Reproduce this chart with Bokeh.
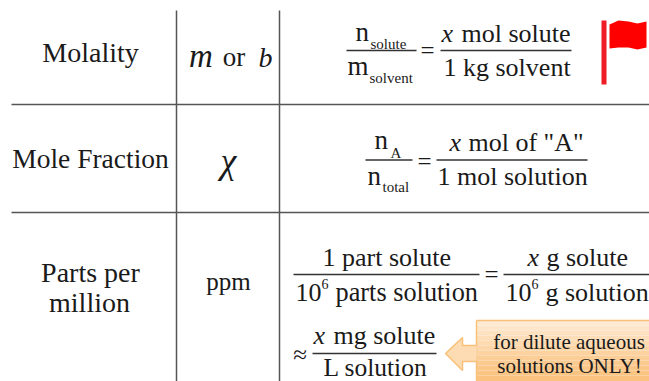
from bokeh.plotting import figure
from bokeh.models import ColumnDataSource, Range1d
from bokeh.embed import file_html
from bokeh.resources import INLINE
from bokeh.core.properties import value

FONT = "Liberation Serif"
INK = "#1a1a1a"

# text, x, baseline y, size px, anchor
roman = [
    ("Molality", 90, 60, 28, "center"),
    ("or", 233.5, 65, 27, "center"),
    ("Mole Fraction", 90, 166, 27.5, "center"),
    ("Parts per", 90, 280, 28, "center"),
    ("million", 89, 310, 28, "center"),
    ("ppm", 228, 288, 25, "center"),
    ("n", 355, 40, 27, "left"),
    ("solute", 370, 48, 15, "left"),
    ("m", 347, 74, 27, "left"),
    ("solvent", 369, 82, 15, "left"),
    ("=", 427, 57, 25, "center"),
    ("mol solute", 461, 41, 26, "left"),
    ("1 kg solvent", 443, 75, 26, "left"),
    ("n", 374, 148, 27, "left"),
    ("A", 390, 157, 15, "left"),
    ("n", 367, 184, 27, "left"),
    ("total", 382, 191, 15, "left"),
    ("=", 424, 168, 25, "center"),
    ('mol of "A"', 468, 150, 26, "left"),
    ("1 mol solution", 437, 184, 26, "left"),
    ("1 part solute", 322, 265, 26, "left"),
    ("10", 295, 300, 26, "left"),
    ("6", 321, 288, 14, "left"),
    ("parts solution", 335, 300, 26.3, "left"),
    ("=", 491, 281, 25, "center"),
    ("g solute", 546, 265, 26, "left"),
    ("10", 505, 300, 26, "left"),
    ("6", 531, 288, 14, "left"),
    ("g solution", 545, 300, 26, "left"),
    ("\u2248", 299.5, 361, 25, "center"),
    ("mg solute", 333, 343, 26, "left"),
    ("L solution", 323, 375, 25.5, "left"),
    ("for dilute aqueous", 568.5, 348, 21, "center"),
    ("solutions ONLY!", 569, 372, 21, "center"),
]
italic = [
    ("m", 200.5, 65, 33, "center"),
    ("b", 265, 65, 28, "center"),
    ("\u03c7", 228, 171, 36, "center"),
    ("x", 441, 41, 26, "left"),
    ("x", 449, 150, 26, "left"),
    ("x", 527, 265, 26, "left"),
    ("x", 313, 343, 26, "left"),
]
rules_h = [(11, 649, 104), (11, 649, 212)]
rules_v = [(176, 10, 381), (279, 10, 381)]
fractions = [(346, 416, 50), (440, 571, 50), (365, 412, 159.5), (436, 587, 159.5),
             (293, 479, 274), (503, 649, 274), (312, 436, 353)]
flag_x = [609, 618, 628, 637, 646, 646, 637, 628, 618, 609]
flag_y = [24, 20, 21, 23, 21, 47, 49, 47, 47, 48]
pole = (601, 606, 20, 84)
arrow_x = [445, 462, 462, 477, 477, 462, 462]
arrow_y = [353, 337, 345, 345, 361, 361, 370]
band_top = [320, 325, 330, 335, 340, 345, 350, 355, 360, 365, 370, 375]
band_colors = ["#feead2", "#fee6ca", "#fde2c1", "#fddeb8", "#fddab0", "#fcd6a8",
               "#fcd2a0", "#fbce98", "#fbca90", "#fbc789", "#fac483", "#fac27e"]
edge = "#f8c078"

p = figure(width=649, height=381, x_range=Range1d(0, 649), y_range=Range1d(381, 0),
           output_backend="svg", toolbar_location=None, min_border=0)
p.axis.visible = False
p.grid.visible = False
p.outline_line_color = None

for x0, x1, y in rules_h:
    p.segment(x0, y, x1, y, line_color="#555555", line_width=1.5)
for x, y0, y1 in rules_v:
    p.segment(x, y0, x, y1, line_color="#555555", line_width=1.5)
for x0, x1, y in fractions:
    p.segment(x0, y, x1, y, line_color="#333333", line_width=1.3)

p.patch(flag_x, flag_y, fill_color="#ff0000", line_color=None)
p.quad(left=pole[0], right=pole[1], top=pole[2], bottom=pole[3], fill_color="#ee1c25", line_color=None)

p.patch(arrow_x, arrow_y, fill_color="#fddcb4", line_color=edge, line_width=1.5)
for i, t in enumerate(band_top):
    b = band_top[i + 1] if i + 1 < len(band_top) else 382
    p.quad(left=476, right=650, top=t, bottom=b, fill_color=band_colors[i], line_color=None)
p.segment(476, 320, 650, 320, line_color=edge, line_width=1.5)
p.segment(476, 320, 476, 345, line_color=edge, line_width=1.5)
p.segment(476, 361, 476, 381, line_color=edge, line_width=1.5)

for rows, style in ((roman, "normal"), (italic, "italic")):
    for anchor in ("center", "left"):
        sel = [r for r in rows if r[4] == anchor]
        src = ColumnDataSource(dict(t=[r[0] for r in sel], x=[r[1] for r in sel],
                                    y=[r[2] - 0.3 * r[3] for r in sel],
                                    s=[f"{r[3]}px" for r in sel]))
        p.text("x", "y", text="t", source=src, text_font=value(FONT), text_font_size="s",
               text_font_style=style, text_align=anchor, text_baseline="middle", text_color=INK)

open("out.html", "w").write(file_html(p, INLINE))
